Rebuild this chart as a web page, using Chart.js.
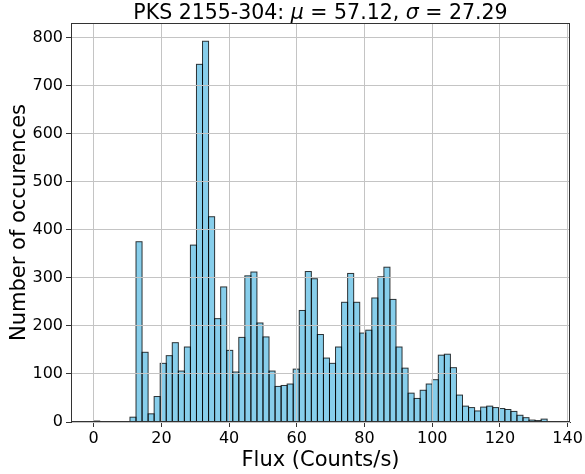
<!DOCTYPE html>
<html><head><meta charset="utf-8">
<script src="https://cdn.jsdelivr.net/npm/chart.js@4/dist/chart.umd.min.js"></script>
<style>html,body{margin:0;padding:0;background:#fff}#wrap{width:585px;height:474px}</style>
</head><body><div id="wrap"><canvas id="c" width="585" height="474"></canvas></div>
<script>
// Histogram bins: first edge and width (Counts/s)
const binStart = 0.0;
const binWidth = 1.786;
// Number of occurrences per bin (75 bins)
const counts = [
  2, 0, 0, 0, 1, 0, 10, 375, 145, 17,
  53, 122, 138, 165, 106, 156, 368, 744, 792, 427,
  215, 281, 149, 104, 176, 304, 312, 206, 177, 106,
  74, 76, 79, 110, 232, 313, 298, 182, 133, 122,
  156, 249, 309, 249, 185, 191, 258, 302, 322, 255,
  156, 112, 60, 49, 66, 79, 88, 139, 141, 113,
  56, 33, 30, 23, 31, 33, 30, 28, 26, 22,
  14, 9, 4, 3, 6
];
const xTicks = [0, 20, 40, 60, 80, 100, 120, 140];
const yTicks = [0, 100, 200, 300, 400, 500, 600, 700, 800];
// Title pieces: [text, italic]
const titleParts = [
  ['PKS 2155-304: ', false],
  ['\u03bc', true],
  [' = 57.12, ', false],
  ['\u03c3', true],
  [' = 27.29', false]
];
const xLabel = 'Flux (Counts/s)';
const yLabel = 'Number of occurences';

const points = counts.map((c, i) => ({x: binStart + (i + 0.5) * binWidth, y: c}));

const FONT = "'DejaVu Sans', sans-serif";
const gridColor = '#c4c4c4';
const spineColor = '#333333';

const overlay = {
  id: 'overlay',
  afterDatasetsDraw(chart) {
    const ctx = chart.ctx;
    const a = chart.chartArea;
    // bar outlines centred on the bin edges
    ctx.save();
    ctx.beginPath();
    ctx.rect(a.left, a.top, a.right - a.left, a.bottom - a.top);
    ctx.clip();
    ctx.strokeStyle = 'rgba(0,0,0,0.78)';
    ctx.lineWidth = 1;
    chart.getDatasetMeta(0).data.forEach((bar, i) => {
      if (counts[i] <= 0) return;
      const p = bar.getProps(['x', 'y', 'base', 'width'], true);
      ctx.strokeRect(p.x - p.width / 2, p.y, p.width, p.base - p.y);
    });
    ctx.restore();
    chart.scales.x.drawGrid(a);
    chart.scales.y.drawGrid(a);
    ctx.save();
    ctx.strokeStyle = spineColor;
    ctx.lineWidth = 1;
    const l = Math.round(a.left) + 0.5, r = Math.round(a.right) - 0.5;
    const t = Math.round(a.top) + 0.5, b = Math.round(a.bottom) - 0.5;
    ctx.strokeRect(l, t, r - l, b - t);
    ctx.restore();
  },
  afterDraw(chart) {
    const ctx = chart.ctx;
    const a = chart.chartArea;
    ctx.save();
    ctx.fillStyle = '#000';
    ctx.textBaseline = 'alphabetic';
    ctx.textAlign = 'left';
    const size = 20.5;
    const fontOf = it => (it ? 'oblique ' : '') + size + 'px ' + FONT;
    let total = 0;
    titleParts.forEach(([t, it]) => { ctx.font = fontOf(it); total += ctx.measureText(t).width; });
    let x = (a.left + a.right) / 2 - total / 2;
    titleParts.forEach(([t, it]) => {
      ctx.font = fontOf(it);
      ctx.fillText(t, x, 19);
      x += ctx.measureText(t).width;
    });
    ctx.restore();
  }
};

new Chart(document.getElementById('c'), {
  type: 'bar',
  data: {
    datasets: [{
      data: points,
      backgroundColor: '#87CEEB',
      borderWidth: 0,
      barPercentage: 1,
      categoryPercentage: 1,
      inflateAmount: 0
    }]
  },
  options: {
    responsive: false,
    animation: false,
    devicePixelRatio: 1,
    layout: {padding: {left: 0, right: 15, top: 23, bottom: 0}},
    plugins: {
      legend: {display: false},
      tooltip: {enabled: false},
      title: {display: false}
    },
    scales: {
      x: {
        type: 'linear',
        min: -6.7,
        max: 140.7,
        offset: false,
        afterBuildTicks(s) { s.ticks = xTicks.map(v => ({value: v})); },
        afterFit(s) { s.height = 52; },
        ticks: {
          color: '#000',
          font: {family: FONT, size: 16},
          padding: 2,
          maxRotation: 0,
          autoSkip: false
        },
        grid: {offset: false, color: gridColor, lineWidth: 1, tickLength: 5, tickColor: spineColor, tickWidth: 1},
        border: {display: true, color: spineColor, width: 1},
        title: {
          display: true, text: xLabel, color: '#000',
          font: {family: FONT, size: 21, lineHeight: 1.2},
          padding: {top: 1, bottom: 1}
        }
      },
      y: {
        type: 'linear',
        min: 0,
        max: 830,
        afterBuildTicks(s) { s.ticks = yTicks.map(v => ({value: v})); },
        afterFit(s) { s.width = 71; },
        ticks: {
          color: '#000',
          font: {family: FONT, size: 16},
          padding: 3,
          autoSkip: false
        },
        grid: {color: gridColor, lineWidth: 1, tickLength: 5, tickColor: spineColor, tickWidth: 1},
        border: {display: true, color: spineColor, width: 1},
        title: {
          display: true, text: yLabel, color: '#000',
          font: {family: FONT, size: 21, lineHeight: 1.2},
          padding: {top: 7, bottom: 0}
        }
      }
    }
  },
  plugins: [overlay]
});
</script>
</body></html>
